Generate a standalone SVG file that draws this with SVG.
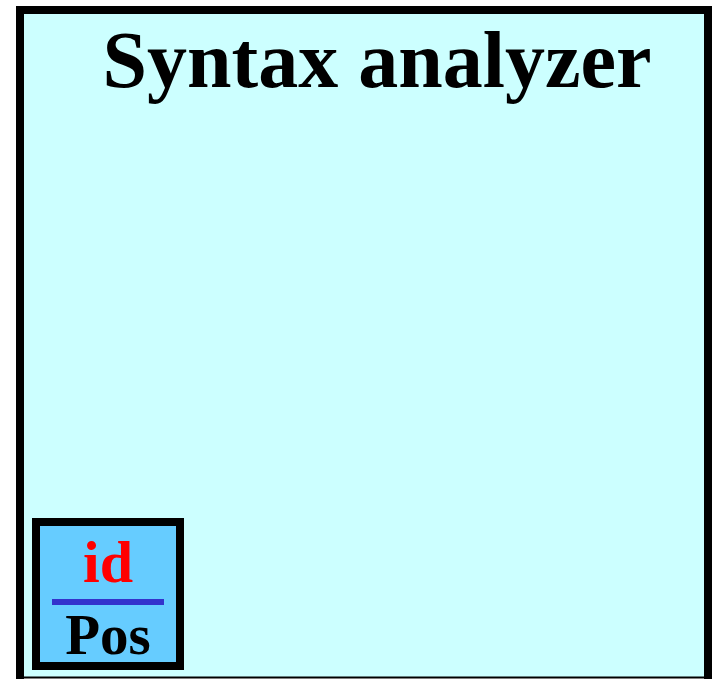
<svg xmlns="http://www.w3.org/2000/svg" width="713" height="679" viewBox="0 0 713 679">
<style>
.t{font-family:"Liberation Serif","Times New Roman",serif;font-weight:bold;text-anchor:middle}
</style>
<rect x="0" y="0" width="713" height="679" fill="#ffffff"/>
<g id="syntax-analyzer">
<rect x="20" y="10" width="688" height="668" fill="#CCFFFF"/>
<path d="M20,679 L20,10 L708,10 L708,679" fill="none" stroke="#000" stroke-width="8"/>
<line x1="16" y1="677.5" x2="712" y2="677.5" stroke="#000" stroke-width="2"/>
<text class="t" x="377" y="87" font-size="80" fill="#000">Syntax analyzer</text>
</g>
<g id="token">
<rect x="36" y="522" width="144" height="144" fill="#66CCFF" stroke="#000" stroke-width="8"/>
<line x1="52" y1="602" x2="164" y2="602" stroke="#3333CC" stroke-width="6"/>
<text class="t" x="108" y="582" font-size="60" fill="#FF0000">id</text>
<text class="t" x="108" y="654" font-size="57" fill="#000">Pos</text>
</g>
</svg>
